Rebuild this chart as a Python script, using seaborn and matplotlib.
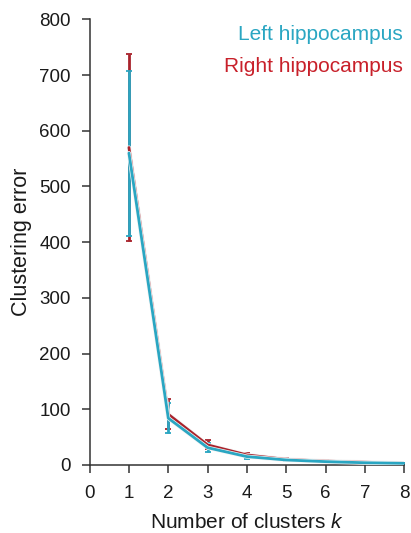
import matplotlib
matplotlib.use("Agg")
import matplotlib.pyplot as plt
import matplotlib.patheffects as pe
import seaborn as sns
import pandas as pd

k = [1, 2, 3, 4, 5, 6, 7, 8]
left_mean = [560, 84, 31, 15, 9, 6, 4, 3]
left_err = [148, 27, 8, 4, 2, 1.5, 1, 1]
right_mean = [570, 91, 36, 18, 10, 7, 5, 3]
right_err = [168, 27, 8, 4, 2, 1.5, 1, 1]
series_labels = ["Left hippocampus", "Right hippocampus"]
colors = {"Left hippocampus": "#2aa6c2", "Right hippocampus": "#a8222b"}
text_colors = {"Left hippocampus": "#2aa6c2", "Right hippocampus": "#c8202a"}

df = pd.DataFrame({
    "k": k * 2,
    "err": left_mean + right_mean,
    "series": [series_labels[0]] * len(k) + [series_labels[1]] * len(k),
})

sns.set_style("ticks")
plt.rcParams["font.family"] = ["Liberation Sans", "DejaVu Sans"]
plt.rcParams["mathtext.fontset"] = "custom"
plt.rcParams["mathtext.it"] = "Liberation Sans:italic"

fig = plt.figure(figsize=(4.11, 5.33), dpi=100)
ax = fig.add_axes([0.218, 0.1276, 0.766, 0.836])

# right first, left on top
for name, mean, err in [(series_labels[1], right_mean, right_err),
                        (series_labels[0], left_mean, left_err)]:
    ax.errorbar(k, mean, yerr=err, fmt="none", ecolor=colors[name],
                elinewidth=2.0, capsize=2.5, capthick=1.3, zorder=2)
    sub = df[df["series"] == name]
    sns.lineplot(data=sub, x="k", y="err", color=colors[name], lw=2.0,
                 ax=ax, legend=False, zorder=3,
                 path_effects=[pe.Stroke(linewidth=3.0, foreground="#f4f4f4"), pe.Normal()])

ax.set_xlim(0, 8)
ax.set_ylim(0, 800)
ax.set_xticks(range(0, 9))
ax.set_yticks(range(0, 801, 100))
ax.tick_params(direction="out", length=5.5, width=1.1, color="#333333",
               labelsize=13.5, labelcolor="#1a1a1a")
ax.tick_params(axis="x", pad=9)
ax.tick_params(axis="y", pad=8)
for s in ["left", "bottom"]:
    ax.spines[s].set_color("#333333")
    ax.spines[s].set_linewidth(1.1)
sns.despine(ax=ax)
ax.set_xlabel("Number of clusters $k$", fontsize=15, color="#1a1a1a", labelpad=8)
ax.set_ylabel("Clustering error", fontsize=15.5, color="#1a1a1a", labelpad=5)

ax.text(0.995, 0.988, series_labels[0], transform=ax.transAxes, ha="right", va="top",
        fontsize=15, color=text_colors[series_labels[0]])
ax.text(0.995, 0.915, series_labels[1], transform=ax.transAxes, ha="right", va="top",
        fontsize=15, color=text_colors[series_labels[1]])

fig.savefig("out.png", dpi=100)
